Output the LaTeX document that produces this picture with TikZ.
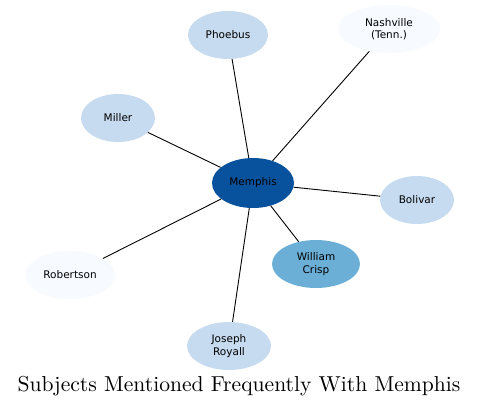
\documentclass[tikz,border=0pt]{standalone}
\usepackage{fontspec}
\newfontfamily\nodefont{DejaVu Sans}
\newfontfamily\titlefont{lmroman10-regular.otf}
\usetikzlibrary{shapes.geometric}
\definecolor{cdark}{HTML}{08519C}
\definecolor{cmid}{HTML}{6BAED6}
\definecolor{clight}{HTML}{C6DBEF}
\definecolor{cpale}{HTML}{F7FBFF}
\begin{document}
\begin{tikzpicture}[x=1pt,y=-1pt,
  subj/.style={ellipse,inner sep=0pt,align=center,font=\nodefont\fontsize{10.5}{12.5}\selectfont,text=black},
  link/.style={draw=black,line width=0.9pt}]
\useasboundingbox (0,0) rectangle (479,407);
\node[subj,fill=cdark,minimum width=82,minimum height=50] (m) at (253,183) {Memphis};
\node[subj,fill=clight,minimum width=80,minimum height=48] (phoebus) at (228,35) {Phoebus};
\node[subj,fill=cpale,minimum width=102,minimum height=48] (nash) at (389,29) {Nashville\\(Tenn.)};
\node[subj,fill=clight,minimum width=74,minimum height=48] (miller) at (118,118) {Miller};
\node[subj,fill=clight,minimum width=74,minimum height=48] (bolivar) at (417,200) {Bolivar};
\node[subj,fill=cpale,minimum width=90,minimum height=48] (rob) at (70,275) {Robertson};
\node[subj,fill=cmid,minimum width=88,minimum height=48] (crisp) at (316,264) {William\\Crisp};
\node[subj,fill=clight,minimum width=84,minimum height=48] (royall) at (229,346) {Joseph\\Royall};
\foreach \t in {phoebus,nash,miller,bolivar,rob,crisp,royall}{\draw[link] (m) -- (\t);}
\node[font=\titlefont\fontsize{21.6}{26}\selectfont,inner sep=0pt,anchor=base] (title) at (239,391.5) {Subjects Mentioned Frequently With Memphis};
\end{tikzpicture}
\end{document}
